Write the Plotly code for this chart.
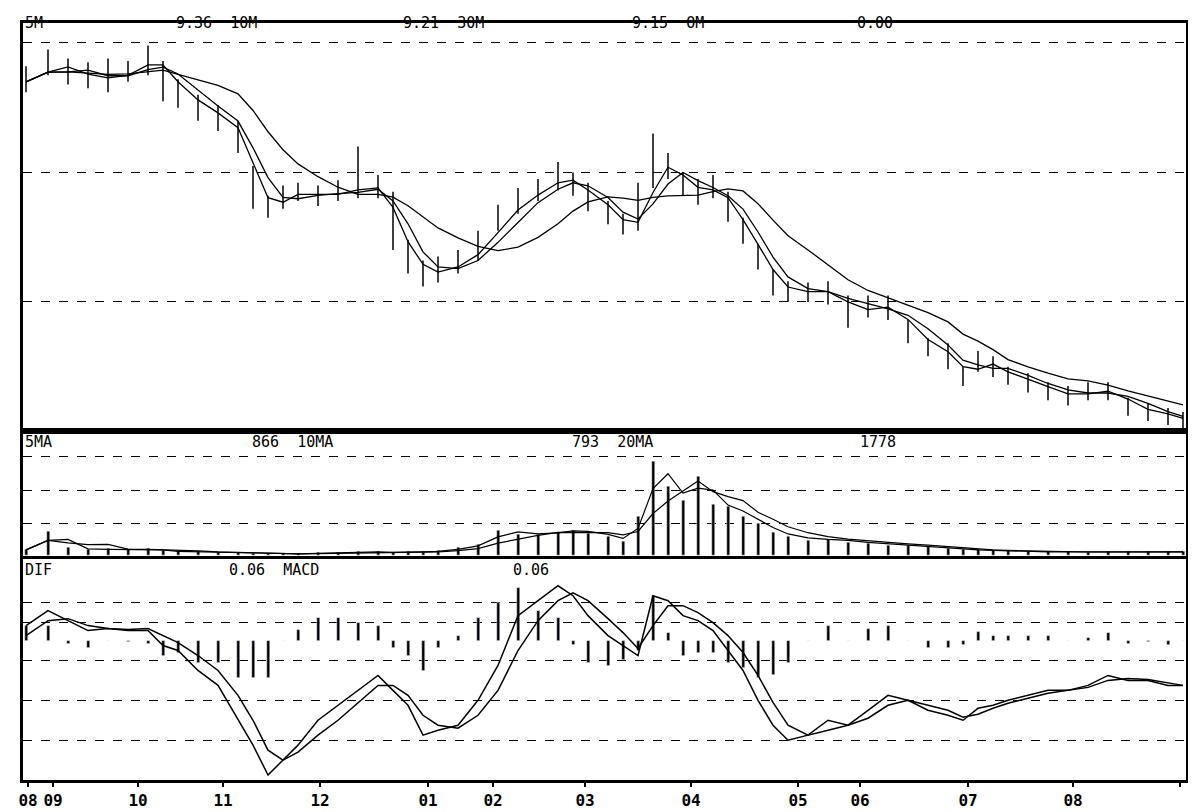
import plotly.graph_objects as go
import pandas as pd

# session ordinal (x) for each bar
session = [18,40,60,80,100,120,140,155,170,190,210,230,245,260,275,290,310,330,350,370,385,400,415,430,450,470,490,510,530,550,565,580,600,615,630,645,660,675,690,705,720,735,750,765,780,800,820,840,860,880,900,920,940,955,970,985,1000,1020,1040,1060,1080,1100,1120,1140,1160,1175]
close = [9.70,9.85,9.78,9.74,9.72,9.78,9.88,9.78,9.62,9.50,9.42,9.27,8.88,8.73,8.81,8.85,8.81,8.85,8.88,8.88,8.58,8.35,8.23,8.23,8.31,8.42,8.65,8.77,8.88,8.96,8.92,8.81,8.69,8.58,8.65,9.04,9.04,8.92,8.85,8.88,8.73,8.54,8.35,8.15,8.08,8.08,8.08,7.92,7.96,7.96,7.77,7.65,7.58,7.42,7.54,7.50,7.42,7.38,7.31,7.27,7.31,7.31,7.19,7.15,7.12,7.08]
high = [9.82,9.95,9.88,9.85,9.88,9.86,9.98,9.86,9.72,9.60,9.52,9.40,9.05,8.82,8.90,8.92,8.90,8.94,9.20,8.98,8.85,8.48,8.32,8.35,8.40,8.55,8.75,8.88,8.95,9.08,9.00,8.92,8.78,8.68,8.92,9.30,9.15,9.00,8.95,8.98,8.85,8.65,8.45,8.25,8.16,8.15,8.16,8.05,8.05,8.05,7.86,7.72,7.68,7.50,7.62,7.58,7.50,7.45,7.38,7.35,7.38,7.38,7.26,7.22,7.18,7.15]
low = [9.62,9.75,9.68,9.65,9.62,9.70,9.75,9.55,9.50,9.40,9.32,9.15,8.72,8.65,8.72,8.78,8.74,8.78,8.80,8.80,8.40,8.22,8.12,8.15,8.22,8.32,8.55,8.68,8.78,8.86,8.82,8.70,8.60,8.52,8.55,8.88,8.95,8.82,8.75,8.80,8.62,8.45,8.25,8.05,8.00,8.00,7.98,7.80,7.88,7.86,7.68,7.58,7.48,7.35,7.46,7.42,7.36,7.30,7.24,7.20,7.24,7.24,7.12,7.08,7.05,7.02]
volume = [60,250,80,60,70,60,70,50,40,40,30,30,20,20,20,20,30,30,40,40,30,40,40,50,80,120,260,220,220,240,260,230,200,150,400,950,700,560,800,520,500,400,330,240,200,160,170,140,130,110,100,90,70,60,60,50,50,40,40,40,35,40,40,40,40,40]
dif = [0.015,0.030,0.020,0.010,0.012,0.010,0.010,-0.005,-0.010,-0.030,-0.045,-0.080,-0.105,-0.135,-0.120,-0.105,-0.080,-0.065,-0.050,-0.035,-0.050,-0.065,-0.095,-0.090,-0.085,-0.060,-0.025,0.025,0.040,0.055,0.045,0.025,0.005,-0.005,-0.015,0.045,0.040,0.025,0.020,0.010,-0.010,-0.030,-0.060,-0.085,-0.100,-0.095,-0.080,-0.085,-0.070,-0.055,-0.060,-0.070,-0.075,-0.080,-0.068,-0.065,-0.060,-0.055,-0.050,-0.050,-0.045,-0.035,-0.040,-0.040,-0.045,-0.045]
dea = [0.005,0.020,0.022,0.015,0.012,0.011,0.012,0.005,-0.002,-0.015,-0.030,-0.055,-0.080,-0.110,-0.120,-0.112,-0.095,-0.080,-0.062,-0.045,-0.045,-0.055,-0.075,-0.085,-0.088,-0.075,-0.050,-0.010,0.020,0.040,0.048,0.040,0.022,0.008,-0.008,0.015,0.035,0.035,0.028,0.018,0.005,-0.012,-0.035,-0.062,-0.085,-0.095,-0.090,-0.085,-0.078,-0.065,-0.060,-0.065,-0.070,-0.077,-0.074,-0.068,-0.063,-0.058,-0.053,-0.050,-0.047,-0.040,-0.038,-0.039,-0.042,-0.045]
month_pos = [20,45,130,215,312,420,485,577,683,790,852,960,1065,1172]
month_lbl = ["08","09","10","11","12","01","02","03","04","05","06","07","08",""]

s = pd.Series(close)
ma5, ma10, ma30 = s.rolling(2, min_periods=1).mean(), s.rolling(3, min_periods=1).mean(), s.rolling(7, min_periods=1).mean()
v = pd.Series(volume)
vma5, vma10 = v.rolling(2, min_periods=1).mean(), v.rolling(4, min_periods=1).mean()
hist = [(a - b) * 1.5 for a, b in zip(dif, dea)]

fig = go.Figure()
fig.add_trace(go.Ohlc(x=session, open=close, high=high, low=low, close=close,
                      increasing_line_color="black", decreasing_line_color="black",
                      line_width=1.5, tickwidth=0, xaxis="x", yaxis="y"))
for m in (ma5, ma10, ma30):
    fig.add_trace(go.Scatter(x=session, y=m, mode="lines", line=dict(color="black", width=1.3), xaxis="x", yaxis="y"))
fig.add_trace(go.Bar(x=session, y=volume, marker_color="black", width=3, xaxis="x2", yaxis="y2"))
for m in (vma5, vma10):
    fig.add_trace(go.Scatter(x=session, y=m, mode="lines", line=dict(color="black", width=1.2), xaxis="x2", yaxis="y2"))
fig.add_trace(go.Bar(x=session, y=hist, marker_color="black", width=3, xaxis="x3", yaxis="y3"))
fig.add_trace(go.Scatter(x=session, y=dif, mode="lines", line=dict(color="black", width=1.5), xaxis="x3", yaxis="y3"))
fig.add_trace(go.Scatter(x=session, y=dea, mode="lines", line=dict(color="black", width=1.5), xaxis="x3", yaxis="y3"))

ax = dict(showline=True, linecolor="black", linewidth=3, mirror=True, showticklabels=False, ticks="",
          gridcolor="black", griddash="dash", gridwidth=1.2, zeroline=False, automargin=False)
xa = dict(range=[15, 1178], showline=True, linecolor="black", linewidth=3, mirror=True, showgrid=False,
          zeroline=False, automargin=False, showticklabels=False, ticks="")
fig.update_layout(
    width=1196, height=812, margin=dict(l=15, r=18, t=15, b=40),
    paper_bgcolor="white", plot_bgcolor="white", showlegend=False, bargap=0,
    xaxis=dict(xa, anchor="y", rangeslider=dict(visible=False)),
    xaxis2=dict(xa, anchor="y2", matches="x"),
    xaxis3=dict(xa, anchor="y3", matches="x", tickvals=month_pos, ticktext=month_lbl, ticks="outside",
                ticklen=4, tickwidth=2, tickcolor="black", showticklabels=True,
                tickfont=dict(family="DejaVu Sans Mono", size=16, color="black", weight="bold")),
    yaxis=dict(ax, domain=[0.4605, 1], range=[7.0, 10.154], tickvals=[8, 9, 10]),
    yaxis2=dict(ax, domain=[0.2961, 0.4605], range=[0, 1250], tickvals=[330, 660, 1000]),
    yaxis3=dict(ax, domain=[0, 0.2921], range=[-0.14, 0.082], tickvals=[0.038, 0.018, -0.02, -0.06, -0.1]),
)

f = dict(family="DejaVu Sans Mono", size=15, color="black")
def lab(x, y, t):
    fig.add_annotation(xref="paper", yref="paper", x=x, y=y, text=t, showarrow=False, xanchor="left", yanchor="middle", font=f)
lab(0.0, 1.0, "5M")
lab(0.13, 1.0, "9.36  10M")
lab(0.325, 1.0, "9.21  30M")
lab(0.522, 1.0, "9.15  OM")
lab(0.715, 1.0, "0.00")
lab(0.0, 0.447, "5MA")
lab(0.195, 0.447, "866  10MA")
lab(0.47, 0.447, "793  20MA")
lab(0.718, 0.447, "1778")
lab(0.0, 0.278, "DIF")
lab(0.175, 0.278, "0.06  MACD")
lab(0.42, 0.278, "0.06")

fig.write_html("out.html")
